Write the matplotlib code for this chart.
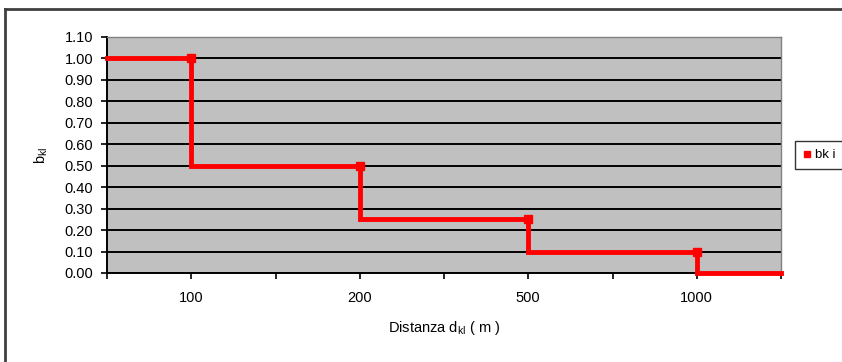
import matplotlib.pyplot as plt
from matplotlib.lines import Line2D

# soglie di distanza e coefficienti b_kl
distanze = ['100', '200', '500', '1000']
bk = [1.00, 0.50, 0.25, 0.10, 0.00]
yticks = [0.00, 0.10, 0.20, 0.30, 0.40, 0.50, 0.60, 0.70, 0.80, 0.90, 1.00, 1.10]

plt.rcParams['font.family'] = ['Liberation Sans', 'DejaVu Sans']

fig = plt.figure(figsize=(8.42, 3.62), dpi=100)
ax = fig.add_axes([107/842, 1 - 273/362, (781 - 107)/842, (273 - 37)/362])
ax.set_facecolor('#C0C0C0')

# posizioni sull'asse delle categorie: ogni soglia sta su 2i+1
pos = [2*i + 1 for i in range(len(distanze))]
xs = [0]
ys = [bk[0]]
for i, p in enumerate(pos):
    xs += [p, p]
    ys += [bk[i], bk[i+1]]
xs.append(2*len(distanze))
ys.append(bk[-1])

ax.plot(xs, ys, color='#FF0000', lw=3.5, solid_joinstyle='miter', zorder=3, clip_on=False)
ax.plot(pos, bk[:-1], ls='none', marker='s', ms=5.5, color='#FF0000', zorder=4, clip_on=False)

ax.set_xlim(0, 2*len(distanze))
ax.set_ylim(0, 1.10)
ax.set_xticks(range(0, 2*len(distanze) + 1))
ax.set_xticklabels([''] + sum([[d, ''] for d in distanze], []))
ax.set_yticks(yticks)
ax.set_yticklabels(['%.2f' % v for v in yticks])
ax.yaxis.grid(True, color='black', lw=1.4)
ax.set_axisbelow(True)
ax.tick_params(axis='both', direction='out', length=4, width=1.2, labelsize=10.5, colors='black')
ax.tick_params(axis='x', pad=9)
ax.tick_params(axis='y', pad=6)
for s in ['top', 'right']:
    ax.spines[s].set_color('#808080')
    ax.spines[s].set_linewidth(1)
for s in ['left', 'bottom']:
    ax.spines[s].set_color('black')
    ax.spines[s].set_linewidth(1.4)

ax.set_xlabel('Distanza d$_{\\mathregular{kl}}$ ( m )', fontsize=10.5, labelpad=10)
ax.set_ylabel('b$_{\\mathregular{kl}}$', fontsize=10.5, labelpad=10)

leg = fig.legend([Line2D([], [], ls='none', marker='s', ms=5, color='#FF0000')], ['bk i'],
                 loc='center left', bbox_to_anchor=(795/842, 1 - 155/362), fontsize=9.5,
                 frameon=True, fancybox=False, edgecolor='black', handlelength=0.6,
                 handletextpad=0.3, borderpad=0.6, borderaxespad=0)
leg.get_frame().set_linewidth(1)

# cornice esterna del grafico
fig.add_artist(Line2D([5/842, 5/842], [0, 1 - 9/362], color='#404040', lw=2, transform=fig.transFigure))
fig.add_artist(Line2D([5/842, 1], [1 - 9/362, 1 - 9/362], color='#404040', lw=2, transform=fig.transFigure))

fig.savefig('out.png', dpi=100)
